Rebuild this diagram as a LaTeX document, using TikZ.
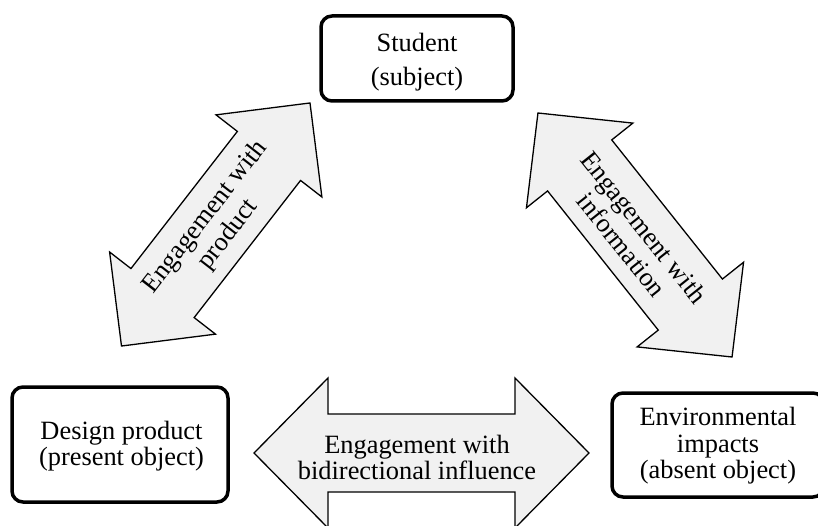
\documentclass[tikz,border=0pt]{standalone}
\usepackage{fontspec}
\setmainfont{Liberation Serif}
\definecolor{arrowgray}{RGB}{241,241,241}
\tikzset{
  box/.style={draw=black, line width=3.5pt, rounded corners=11pt},
  arrowshape/.style={draw=black, line width=1.3pt, fill=arrowgray, line join=miter},
  lbl/.style={align=center, inner sep=0pt, font=\fontsize{26.4}{26.5}\selectfont},
}
\newcommand\dblarrow[8]{% name, x, y, angle, halflen, headlen, halfhead, halfshaft
  \begin{scope}[shift={(#2,#3)},rotate=#4]
    \pgfmathsetmacro\hb{#5-#6}
    \draw[arrowshape] (-#5,0) coordinate (#1-a) -- (-\hb,#7) -- (-\hb,#8) -- (\hb,#8) -- (\hb,#7)
      -- (#5,0) coordinate (#1-b) -- (\hb,-#7) -- (\hb,-#8) -- (-\hb,-#8) -- (-\hb,-#7) -- cycle;
  \end{scope}}
\begin{document}
\begin{tikzpicture}[x=1pt,y=1pt]
\clip (0,0) rectangle (818,525);
\fill[white] (0,0) rectangle (818,525);
% boxes
\node[box, minimum width=192pt, minimum height=85pt] (student) at (417,466.5) {};
\node[box, minimum width=216pt, minimum height=115pt] (design) at (120,80.5) {};
\node[box, minimum width=212pt, minimum height=104pt] (env) at (718,80) {};
\node[lbl] (studentT) at (417,463) {Student\\[8pt](subject)};
\node[lbl] (designT) at (121.5,79) {Design product\\(present object)};
\node[lbl] (envT) at (718,79) {Environmental\\impacts\\(absent object)};
% arrows
\dblarrow{bottom}{421.5}{72}{0}{167.5}{74}{75}{39}
\dblarrow{left}{215.75}{300.5}{52.2}{153.8}{67}{67}{40}
\dblarrow{right}{635}{290}{-51.5}{155.9}{67}{68}{41}
\node[lbl] (bottomT) at (417,67.5) {Engagement with\\bidirectional influence};
\node[lbl, rotate=52.2] (leftT) at (217,299) {Engagement with\\[2pt]product};
\node[lbl, rotate=-51.5] (rightT) at (633,289) {Engagement with\\[2pt]information};
\end{tikzpicture}
\end{document}
